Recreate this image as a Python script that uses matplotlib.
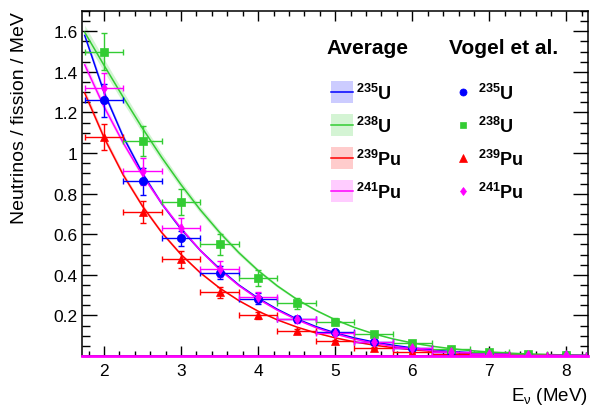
import matplotlib
matplotlib.use('Agg')
import numpy as np
import matplotlib.pyplot as plt
from matplotlib.ticker import FixedLocator, MultipleLocator, FixedFormatter
from matplotlib.patches import Rectangle
from matplotlib.lines import Line2D

plt.rcParams['font.family'] = ['Liberation Sans', 'DejaVu Sans']
plt.rcParams['mathtext.fontset'] = 'custom'
plt.rcParams['mathtext.rm'] = 'Liberation Sans'
plt.rcParams['mathtext.it'] = 'Liberation Sans:italic'
plt.rcParams['mathtext.bf'] = 'Liberation Sans:bold'

# ---------------- data ----------------
isotopes = ['235U', '238U', '239Pu', '241Pu']
iso_labels = [r'$\mathbf{{}^{235}U}$', r'$\mathbf{{}^{238}U}$',
              r'$\mathbf{{}^{239}Pu}$', r'$\mathbf{{}^{241}Pu}$']

# Vogel et al. points (bin centres, half bin width)
E_vogel = [2.0, 2.5, 3.0, 3.5, 4.0, 4.5, 5.0, 5.5, 6.0, 6.5, 7.0, 7.5, 8.0]
E_half_width = 0.25
vogel_235U = [1.26, 0.86, 0.58, 0.41, 0.283, 0.182, 0.117, 0.071, 0.040, 0.022, 0.012, 0.006, 0.003]
vogel_235U_err = [0.08, 0.065, 0.037, 0.033, 0.025, 0.015, 0.010, 0.007, 0.005, 0.003, 0.002, 0.001, 0.001]
vogel_238U = [1.50, 1.06, 0.76, 0.55, 0.386, 0.259, 0.170, 0.108, 0.062, 0.034, 0.018, 0.008, 0.004]
vogel_238U_err = [0.09, 0.075, 0.065, 0.05, 0.04, 0.025, 0.018, 0.012, 0.008, 0.005, 0.003, 0.002, 0.001]
vogel_239Pu = [1.08, 0.71, 0.476, 0.313, 0.200, 0.121, 0.072, 0.039, 0.020, 0.011, 0.006, 0.003, 0.0015]
vogel_239Pu_err = [0.065, 0.053, 0.04, 0.028, 0.018, 0.010, 0.007, 0.004, 0.003, 0.002, 0.001, 0.001, 0.0005]
vogel_241Pu = [1.32, 0.91, 0.632, 0.43, 0.289, 0.18, 0.114, 0.069, 0.040, 0.022, 0.012, 0.006, 0.003]
vogel_241Pu_err = [0.075, 0.065, 0.05, 0.04, 0.025, 0.016, 0.010, 0.007, 0.005, 0.003, 0.002, 0.001, 0.001]

# Average spectra
E_avg = [1.75, 2.0, 2.25, 2.5, 2.75, 3.0, 3.25, 3.5, 3.75, 4.0, 4.25, 4.5, 4.75, 5.0,
         5.25, 5.5, 5.75, 6.0, 6.25, 6.5, 6.75, 7.0, 7.25, 7.5, 7.75, 8.0, 8.25]
avg_235U = [1.58, 1.30, 1.08, 0.90, 0.75, 0.625, 0.52, 0.43, 0.35, 0.285, 0.23, 0.183, 0.145, 0.114,
            0.089, 0.069, 0.053, 0.040, 0.030, 0.022, 0.016, 0.0118, 0.0086, 0.0062, 0.0044, 0.0031, 0.0021]
avg_238U = [1.595, 1.433, 1.275, 1.122, 0.978, 0.844, 0.720, 0.609, 0.509, 0.421, 0.345, 0.280, 0.225, 0.179,
            0.1406, 0.1094, 0.0843, 0.0643, 0.0486, 0.0363, 0.0268, 0.0196, 0.0142, 0.0102, 0.0072, 0.0051, 0.0035]
avg_239Pu = [1.296, 1.077, 0.892, 0.738, 0.608, 0.500, 0.410, 0.335, 0.273, 0.221, 0.178, 0.143, 0.1135, 0.0895,
             0.0697, 0.0538, 0.0411, 0.0311, 0.0233, 0.0172, 0.0126, 0.0092, 0.0066, 0.0047, 0.0033, 0.0023, 0.0016]
avg_241Pu = [1.435, 1.229, 1.050, 0.890, 0.751, 0.629, 0.520, 0.426, 0.347, 0.281, 0.2256, 0.179, 0.140, 0.1087,
             0.0834, 0.0634, 0.0476, 0.0355, 0.0261, 0.0191, 0.0138, 0.0099, 0.0070, 0.0049, 0.0034, 0.0023, 0.0016]
# relative uncertainty of the average bands
avg_rel_unc = [0.012, 0.022, 0.015, 0.015]

y_ticks = [0.2, 0.4, 0.6, 0.8, 1.0, 1.2, 1.4, 1.6]
y_tick_labels = ['0.2', '0.4', '0.6', '0.8', '1', '1.2', '1.4', '1.6']
x_ticks = [2, 3, 4, 5, 6, 7, 8]
x_tick_labels = ['2', '3', '4', '5', '6', '7', '8']

# ---------------- style ----------------
line_colors = ['#0000ff', '#33cc33', '#ff0000', '#ff00ff']
band_colors = ['#ccccff', '#d4f4d4', '#ffcccc', '#ffccff']
markers = ['o', 's', '^', 'd']
msizes = [6.0, 5.6, 6.2, 5.0]

vogel_vals = [vogel_235U, vogel_238U, vogel_239Pu, vogel_241Pu]
vogel_errs = [vogel_235U_err, vogel_238U_err, vogel_239Pu_err, vogel_241Pu_err]
avg_vals = [avg_235U, avg_238U, avg_239Pu, avg_241Pu]

W, H = 590, 410
fig = plt.figure(figsize=(W / 100, H / 100), dpi=100)
ax = fig.add_axes([82 / W, 53 / H, 506 / W, 345 / H])

Ea = np.array(E_avg)
for i in range(4):
    a = np.array(avg_vals[i])
    r = avg_rel_unc[i]
    ax.fill_between(Ea, a * (1 - r), a * (1 + r), color=band_colors[i], lw=0, zorder=1)
for i in range(4):
    ax.plot(Ea, avg_vals[i], color=line_colors[i], lw=1.1, zorder=2)

draw_order = [1, 2, 0, 3]
for i in draw_order:
    ax.errorbar(E_vogel, vogel_vals[i], xerr=E_half_width, yerr=vogel_errs[i], fmt='none',
                ecolor=line_colors[i], elinewidth=1.0, capsize=2.0, capthick=1.0, zorder=3 + i * 0.1)
for i in draw_order:
    ax.plot(E_vogel, vogel_vals[i], ls='none', marker=markers[i], ms=msizes[i],
            mfc=line_colors[i], mec=line_colors[i], mew=0.5, zorder=4 + i * 0.1)

ax.axhline(0, color='#ff00ff', lw=2.0, zorder=6, clip_on=False)

ax.set_xlim(1.715, 8.28)
ax.set_ylim(0, 1.7)
ax.xaxis.set_major_locator(FixedLocator(x_ticks))
ax.xaxis.set_major_formatter(FixedFormatter(x_tick_labels))
ax.xaxis.set_minor_locator(MultipleLocator(0.2))
ax.yaxis.set_major_locator(FixedLocator(y_ticks))
ax.yaxis.set_major_formatter(FixedFormatter(y_tick_labels))
ax.yaxis.set_minor_locator(MultipleLocator(0.05))

ax.tick_params(axis='x', which='major', direction='in', length=7, width=1, top=True, labelsize=12.5, pad=5)
ax.tick_params(axis='x', which='minor', direction='in', length=3.5, width=1, top=True)
ax.tick_params(axis='y', which='major', direction='in', length=10.5, width=1, right=True, labelsize=12.5, pad=3)
ax.tick_params(axis='y', which='minor', direction='in', length=5.5, width=1, right=True)
for s in ax.spines.values():
    s.set_linewidth(1.1)

fig.text(588 / W, 1 - 397 / H, r'E$_{\mathrm{\nu}}$ (MeV)', ha='right', va='center', fontsize=13.5)
fig.text(20 / W, 1 - 12 / H, 'Neutrinos / fission / MeV', rotation=90, ha='center', va='top', fontsize=14)

# ---------------- legend ----------------
def fx(px):
    return px / W

def fy(py):
    return 1 - py / H

fig.text(fx(367), fy(48), 'Average', ha='center', va='center', fontsize=15, fontweight='bold')
fig.text(fx(503.5), fy(48), 'Vogel et al.', ha='center', va='center', fontsize=15, fontweight='bold')
row_y = [93.3, 126.3, 159.3, 192.3]
for i in range(4):
    yc = row_y[i]
    fig.add_artist(Rectangle((fx(331), fy(yc + 11)), 22 / W, 22 / H, transform=fig.transFigure,
                             facecolor=band_colors[i], edgecolor='none'))
    fig.add_artist(Line2D([fx(331), fx(353)], [fy(yc), fy(yc)], transform=fig.transFigure,
                          color=line_colors[i], lw=1.1))
    fig.text(fx(356), fy(yc + 7), iso_labels[i], ha='left', va='baseline', fontsize=13)
    fig.add_artist(Line2D([fx(463.3)], [fy(yc)], transform=fig.transFigure, ls='none',
                          marker=markers[i], ms=msizes[i] * 0.85, mfc=line_colors[i], mec=line_colors[i], mew=0.5))
    fig.text(fx(478), fy(yc + 7), iso_labels[i], ha='left', va='baseline', fontsize=13)

fig.savefig('out.png', dpi=100)
